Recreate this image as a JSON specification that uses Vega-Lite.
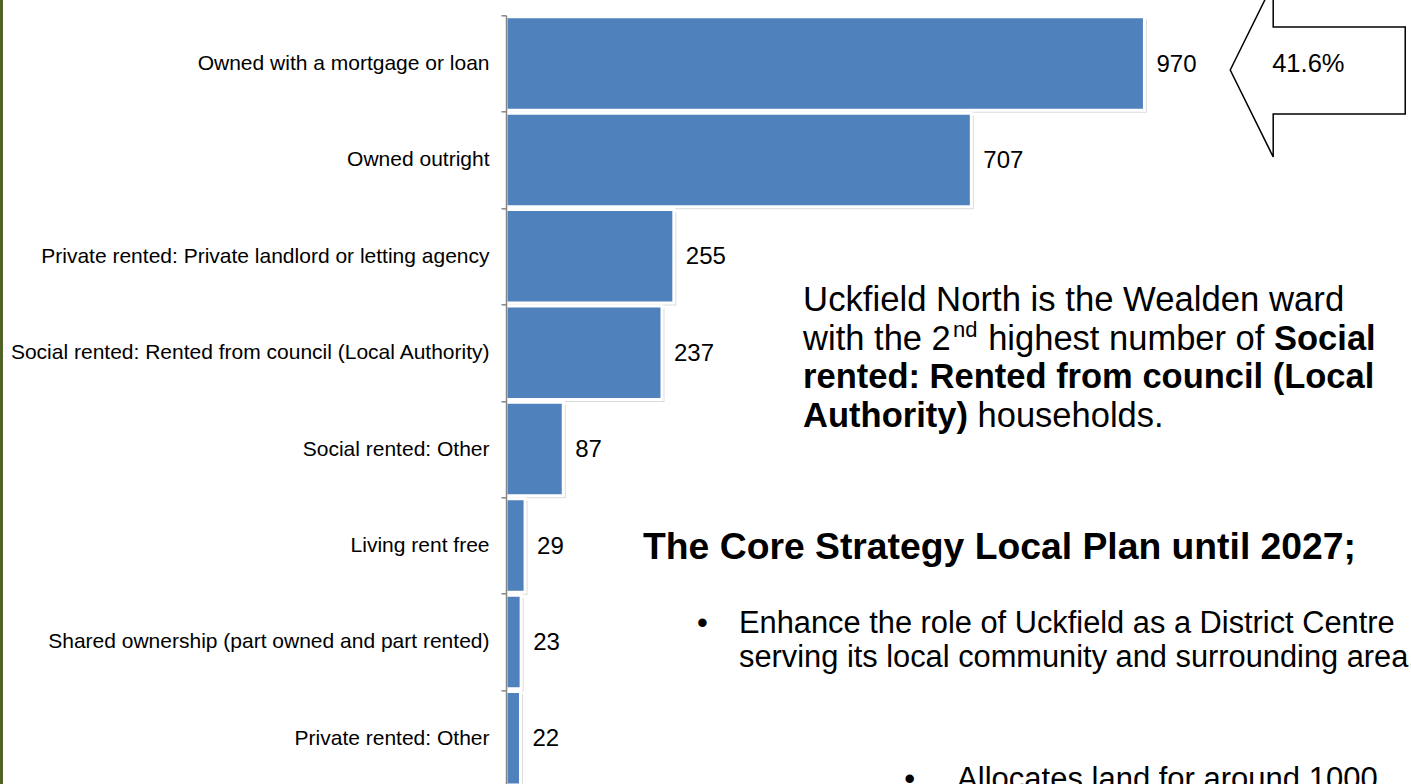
{
  "$schema": "https://vega.github.io/schema/vega-lite/v6.json",
  "autosize": "none",
  "width": 905,
  "height": 771.2,
  "padding": {"left": 506, "top": 15.3, "right": 0, "bottom": 0},
  "background": "white",
  "config": {
    "view": {"stroke": null},
    "font": "Liberation Sans",
    "text": {"font": "Liberation Sans", "color": "black"}
  },
  "data": {
    "values": [
      {"tenure": "Owned with a mortgage or loan", "households": 970},
      {"tenure": "Owned outright", "households": 707},
      {"tenure": "Private rented: Private landlord or letting agency", "households": 255},
      {"tenure": "Social rented: Rented from council (Local Authority)", "households": 237},
      {"tenure": "Social rented: Other", "households": 87},
      {"tenure": "Living rent free", "households": 29},
      {"tenure": "Shared ownership (part owned and part rented)", "households": 23},
      {"tenure": "Private rented: Other", "households": 22}
    ]
  },
  "encoding": {
    "y": {
      "field": "tenure",
      "type": "nominal",
      "sort": null,
      "scale": {
        "domain": [
          "Owned with a mortgage or loan",
          "Owned outright",
          "Private rented: Private landlord or letting agency",
          "Social rented: Rented from council (Local Authority)",
          "Social rented: Other",
          "Living rent free",
          "Shared ownership (part owned and part rented)",
          "Private rented: Other"
        ],
        "paddingInner": 0,
        "paddingOuter": 0
      },
      "axis": {
        "title": null,
        "zindex": 1,
        "domainColor": "#868686",
        "domainWidth": 1.5,
        "tickColor": "#868686",
        "tickWidth": 1.5,
        "tickSize": 5,
        "tickBand": "extent",
        "labelFont": "Liberation Sans",
        "labelFontSize": 21,
        "labelColor": "black",
        "labelPadding": 12,
        "labelLimit": 0,
        "grid": false
      }
    },
    "x": {
      "field": "households",
      "type": "quantitative",
      "scale": {"domain": [0, 1375], "nice": false, "zero": true},
      "axis": null
    }
  },
  "layer": [
    {
      "mark": {"type": "rule", "color": "#4F6228", "strokeWidth": 3, "yOffset": -63.5, "y2Offset": 46},
      "encoding": {
        "x": {"datum": -767.5, "type": "quantitative"},
        "y": {"datum": "Owned with a mortgage or loan", "type": "nominal"},
        "y2": {"datum": "Private rented: Other"}
      }
    },
    {
      "mark": {"type": "bar", "height": {"band": 0.97}, "color": "#bfbfbf", "opacity": 0.55, "xOffset": 2.5, "yOffset": 2.5}
    },
    {
      "mark": {"type": "bar", "height": {"band": 0.97}, "color": "#4F81BD", "stroke": "white", "strokeWidth": 3}
    },
    {
      "mark": {"type": "text", "align": "left", "baseline": "middle", "dx": 12, "dy": 1, "fontSize": 24},
      "encoding": {"text": {"field": "households", "type": "quantitative"}}
    },
    {
      "transform": [{"filter": "datum.households == 970"}],
      "mark": {
        "type": "point",
        "shape": "M-1,0L-0.509,-0.994L-0.509,-0.491L1,-0.491L1,0.503L-0.509,0.503L-0.509,0.994Z",
        "size": 30625,
        "filled": true,
        "fill": "white",
        "stroke": "black",
        "strokeWidth": 1.5,
        "opacity": 1,
        "yOffset": 6.5
      },
      "encoding": {"x": {"datum": 1233.3, "type": "quantitative"}}
    },
    {
      "transform": [{"filter": "datum.households == 970"}],
      "mark": {"type": "text", "align": "left", "baseline": "alphabetic", "dy": 8.5, "fontSize": 25.5, "text": "41.6%"},
      "encoding": {"x": {"datum": 1164.1, "type": "quantitative"}}
    },
    {
      "transform": [{"filter": "datum.households == 237"}],
      "mark": {"type": "text", "align": "left", "baseline": "alphabetic", "dy": -41.7, "fontSize": 34.7, "text": "Uckfield North is the Wealden ward"},
      "encoding": {"x": {"datum": 451.4, "type": "quantitative"}}
    },
    {
      "transform": [{"filter": "datum.households == 237"}],
      "mark": {"type": "text", "align": "left", "baseline": "alphabetic", "dy": -3.2, "fontSize": 34.5, "text": "with the 2"},
      "encoding": {"x": {"datum": 451.4, "type": "quantitative"}}
    },
    {
      "transform": [{"filter": "datum.households == 237"}],
      "mark": {"type": "text", "align": "left", "baseline": "alphabetic", "dy": -16, "fontSize": 22, "text": "nd"},
      "encoding": {"x": {"datum": 679.3, "type": "quantitative"}}
    },
    {
      "transform": [{"filter": "datum.households == 237"}],
      "mark": {"type": "text", "align": "left", "baseline": "alphabetic", "dy": -3.2, "fontSize": 34.5, "text": "highest number of"},
      "encoding": {"x": {"datum": 732.6, "type": "quantitative"}}
    },
    {
      "transform": [{"filter": "datum.households == 237"}],
      "mark": {"type": "text", "align": "left", "baseline": "alphabetic", "dy": -3.2, "fontSize": 34.5, "fontWeight": "bold", "text": "Social"},
      "encoding": {"x": {"datum": 1166.9, "type": "quantitative"}}
    },
    {
      "transform": [{"filter": "datum.households == 237"}],
      "mark": {"type": "text", "align": "left", "baseline": "alphabetic", "dy": 35.3, "fontSize": 34.5, "fontWeight": "bold", "text": "rented: Rented from council (Local"},
      "encoding": {"x": {"datum": 451.4, "type": "quantitative"}}
    },
    {
      "transform": [{"filter": "datum.households == 237"}],
      "mark": {"type": "text", "align": "left", "baseline": "alphabetic", "dy": 73.8, "fontSize": 34.5, "fontWeight": "bold", "text": "Authority)"},
      "encoding": {"x": {"datum": 451.4, "type": "quantitative"}}
    },
    {
      "transform": [{"filter": "datum.households == 237"}],
      "mark": {"type": "text", "align": "left", "baseline": "alphabetic", "dy": 73.8, "fontSize": 34.5, "text": "households."},
      "encoding": {"x": {"datum": 716.4, "type": "quantitative"}}
    },
    {
      "transform": [{"filter": "datum.households == 29"}],
      "mark": {"type": "text", "align": "left", "baseline": "alphabetic", "dy": 13.5, "fontSize": 37.3, "fontWeight": "bold", "text": "The Core Strategy Local Plan until 2027;"},
      "encoding": {"x": {"datum": 208.2, "type": "quantitative"}}
    },
    {
      "transform": [{"filter": "datum.households == 23"}],
      "mark": {"type": "text", "align": "left", "baseline": "alphabetic", "dy": -8.9, "fontSize": 31, "text": "•"},
      "encoding": {"x": {"datum": 290.3, "type": "quantitative"}}
    },
    {
      "transform": [{"filter": "datum.households == 23"}],
      "mark": {"type": "text", "align": "left", "baseline": "alphabetic", "dy": -8.9, "fontSize": 30.8, "text": "Enhance the role of Uckfield as a District Centre"},
      "encoding": {"x": {"datum": 354.1, "type": "quantitative"}}
    },
    {
      "transform": [{"filter": "datum.households == 23"}],
      "mark": {"type": "text", "align": "left", "baseline": "alphabetic", "dy": 25.1, "fontSize": 30.8, "text": "serving its local community and surrounding area."},
      "encoding": {"x": {"datum": 354.1, "type": "quantitative"}}
    },
    {
      "transform": [{"filter": "datum.households == 22"}],
      "mark": {"type": "text", "align": "left", "baseline": "alphabetic", "dy": 50.7, "fontSize": 31, "text": "•"},
      "encoding": {"x": {"datum": 604.9, "type": "quantitative"}}
    },
    {
      "transform": [{"filter": "datum.households == 22"}],
      "mark": {"type": "text", "align": "left", "baseline": "alphabetic", "dy": 50.7, "fontSize": 31, "text": "Allocates land for around 1000"},
      "encoding": {"x": {"datum": 685.4, "type": "quantitative"}}
    }
  ]
}
